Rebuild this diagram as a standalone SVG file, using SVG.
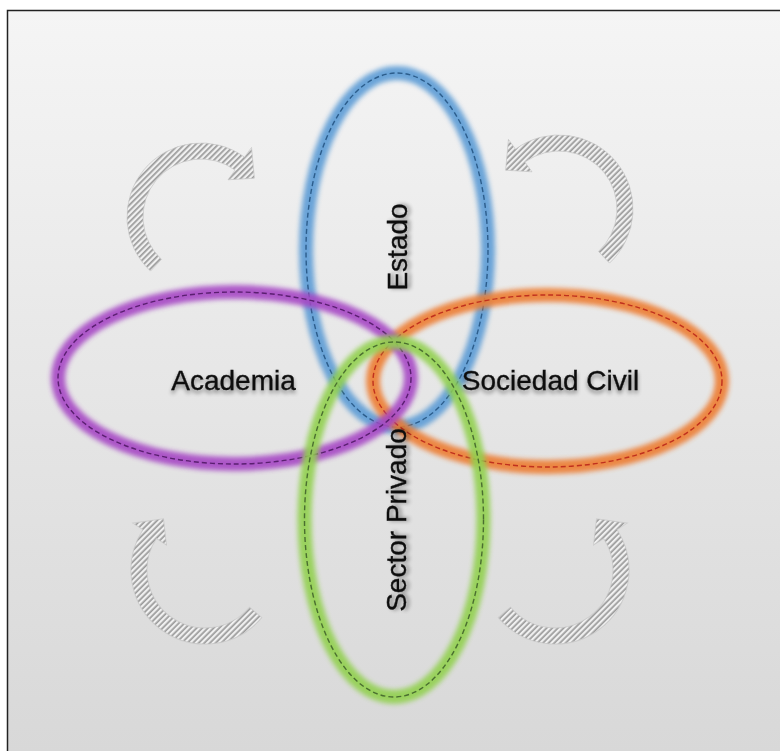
<svg xmlns="http://www.w3.org/2000/svg" xmlns:xlink="http://www.w3.org/1999/xlink" width="780" height="751" viewBox="0 0 780 751">
<defs>
<style>
.glow{fill:none;stroke-width:14;filter:url(#blur);opacity:0.9}
.dash{fill:none;stroke-width:1.4;stroke-dasharray:5 3}
.lbl{font-family:"Liberation Sans",Arial,sans-serif;font-size:28px;fill:#111111;stroke:#111111;stroke-width:0.35;text-anchor:middle;filter:url(#tshadow)}
.arrow{stroke:#c4c4c4;stroke-width:1;stroke-opacity:0.7}
</style>
<linearGradient id="bg" gradientUnits="userSpaceOnUse" x1="0" y1="10" x2="0" y2="751">
<stop offset="0" stop-color="#f5f5f5"/>
<stop offset="1" stop-color="#d8d8d8"/>
</linearGradient>
<filter id="blur" x="-20%" y="-20%" width="140%" height="140%">
<feGaussianBlur stdDeviation="2.4"/>
</filter>
<filter id="tshadow" x="-20%" y="-40%" width="140%" height="200%">
<feGaussianBlur in="SourceAlpha" stdDeviation="2"/>
<feOffset dy="3" result="b"/>
<feComponentTransfer><feFuncA type="linear" slope="0.45"/></feComponentTransfer>
<feMerge><feMergeNode/><feMergeNode in="SourceGraphic"/></feMerge>
</filter>
<pattern id="hTL" patternUnits="userSpaceOnUse" width="4" height="4" patternTransform="rotate(45)">
<rect width="4" height="4" fill="#f0f0f0"/><rect width="1.7" height="4" fill="#9a9a9a"/>
</pattern>
<pattern id="hTR" patternUnits="userSpaceOnUse" width="4" height="4" patternTransform="rotate(-45)">
<rect width="4" height="4" fill="#f0f0f0"/><rect width="1.7" height="4" fill="#9a9a9a"/>
</pattern>
<pattern id="hBL" patternUnits="userSpaceOnUse" width="4" height="4" patternTransform="rotate(-42)">
<rect width="4" height="4" fill="#f0f0f0"/><rect width="1.7" height="4" fill="#9a9a9a"/>
</pattern>
<pattern id="hBR" patternUnits="userSpaceOnUse" width="4" height="4" patternTransform="rotate(48)">
<rect width="4" height="4" fill="#f0f0f0"/><rect width="1.7" height="4" fill="#9a9a9a"/>
</pattern>
<path id="arr" d="M-50.47,54.12 A74,74 0 0 1 43.5,-59.87 L50.55,-69.57 L53.39,-38.79 L27.04,-37.21 L34.09,-46.92 A58,58 0 0 0 -39.56,42.42 Z"/>
</defs>
<rect width="780" height="751" fill="#ffffff"/>
<rect x="7.5" y="10.5" width="800" height="800" fill="url(#bg)" stroke="#222222" stroke-width="1.5"/>

<g id="arrow-top-left"><use xlink:href="#arr" href="#arr" class="arrow" fill="url(#hTL)" transform="translate(201,217)"/></g>
<g id="arrow-top-right"><use xlink:href="#arr" href="#arr" class="arrow" fill="url(#hTR)" transform="translate(559,209) scale(-1,1)"/></g>
<g id="arrow-bottom-left"><use xlink:href="#arr" href="#arr" class="arrow" fill="url(#hBL)" transform="translate(205,570) rotate(-93)"/></g>
<g id="arrow-bottom-right"><use xlink:href="#arr" href="#arr" class="arrow" fill="url(#hBR)" transform="translate(555,570) scale(-1,1) rotate(-93)"/></g>

<g id="estado">
<ellipse class="glow" cx="397" cy="250" rx="91" ry="177" stroke="#5b9bd5"/>
<ellipse class="dash" cx="397" cy="250" rx="91" ry="177" stroke="#2c5d8c"/>
</g>
<g id="sociedad-civil">
<ellipse class="glow" cx="547.5" cy="381" rx="174.5" ry="86" stroke="#ed7d31"/>
<ellipse class="dash" cx="547.5" cy="381" rx="174.5" ry="86" stroke="#c0301e"/>
</g>
<g id="academia">
<ellipse class="glow" cx="234.5" cy="378" rx="176.5" ry="86" stroke="#a646c4"/>
<ellipse class="dash" cx="234.5" cy="378" rx="176.5" ry="86" stroke="#5a1f70"/>
</g>
<g id="sector-privado">
<ellipse class="glow" cx="394" cy="519.5" rx="89.5" ry="177.5" stroke="#92d050"/>
<ellipse class="dash" cx="394" cy="519.5" rx="89.5" ry="177.5" stroke="#4a6e30"/>
</g>

<g id="labels">
<text class="lbl" transform="translate(407,247) rotate(-90)" x="0" y="0">Estado</text>
<text class="lbl" x="233.5" y="390">Academia</text>
<text class="lbl" x="550.5" y="390">Sociedad Civil</text>
<text class="lbl" transform="translate(406,520) rotate(-90)" x="0" y="0">Sector Privado</text>
</g>
</svg>
